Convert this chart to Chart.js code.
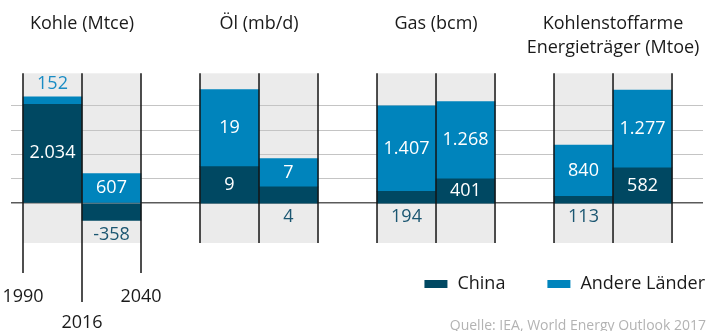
<!DOCTYPE html>
<html><head><meta charset="utf-8">
<script src="https://cdn.jsdelivr.net/npm/chart.js@4/dist/chart.umd.min.js"></script>
<style>html,body{margin:0;padding:0;background:#fff}#wrap{position:relative;width:708px;height:331px}</style>
</head><body><div id="wrap"><canvas id="c"></canvas></div>
<script>
// ---- data ----
const groupTitles = [['Kohle (Mtce)', ''], ['Öl (mb/d)', ''], ['Gas (bcm)', ''], ['Kohlenstoffarme', 'Energieträger (Mtoe)']];
const periods = ['1990-2016', '2016-2040'];
const yearLabels = [['1990'], ['', '2016'], ['2040']];
const seriesNames = ['China', 'Andere Länder'];
const chinaKohle = [2034, -358];
const andereKohle = [152, 607];
const chinaOel = [9, 4];
const andereOel = [19, 7];
const chinaGas = [194, 401];
const andereGas = [1407, 1268];
const chinaLow = [113, 582];
const andereLow = [840, 1277];
const gridSteps = [500, 6, 400, 400];
const sourceText = 'Quelle: IEA, World Energy Outlook 2017';

// ---- styling ----
const FONT = '"Open Sans", sans-serif';
const FS = 18;
const C_CHINA = '#004862', C_OTHER = '#0084bc';
const T_CHINA = '#1b5671', T_OTHER = '#1a8cc4';
const PANEL = '#ebebeb';
const X_MIN = -0.7034, X_MAX = 11.025;
const Y_LO = -1.64, Y_HI = 5.34;

const axisIds = ['yKohle', 'yOel', 'yGas', 'yLow'];
const chinaSets = [chinaKohle, chinaOel, chinaGas, chinaLow];
const otherSets = [andereKohle, andereOel, andereGas, andereLow];
const pos = (g, p) => g * 3 + p;

const datasets = [];
axisIds.forEach((id, g) => {
  datasets.push({label: seriesNames[0], series: 0, yAxisID: id, xAxisID: 'x', backgroundColor: C_CHINA,
    data: chinaSets[g].map((v, p) => ({x: pos(g, p), y: v}))});
  datasets.push({label: seriesNames[1], series: 1, yAxisID: id, xAxisID: 'x', backgroundColor: C_OTHER,
    data: otherSets[g].map((v, p) => ({x: pos(g, p), y: v}))});
});

const fmt = v => String(v).replace(/\B(?=(\d{3})+(?!\d))/g, '.');

const yScales = {};
axisIds.forEach((id, g) => {
  const s = gridSteps[g];
  yScales[id] = {
    type: 'linear', stacked: true, display: g === 0, min: Y_LO * s, max: Y_HI * s,
    ticks: {display: false}, border: {display: false},
    grid: {drawTicks: false,
      color: c => c.tick.value === 0 ? '#5a5a5a' : '#c4c4c4',
      lineWidth: c => c.tick.value === 0 ? 1.6 : 1},
    afterBuildTicks: sc => { sc.ticks = [0, 1, 2, 3, 4].map(k => ({value: k * s})); }
  };
});

const noSidePad = (s, h) => { s.height = h; s.paddingLeft = 0; s.paddingRight = 0; };

const decor = {
  id: 'decor',
  beforeDraw(chart) {
    const {ctx, chartArea: a, scales: {x}} = chart;
    ctx.save();
    ctx.fillStyle = PANEL;
    groupTitles.forEach((t, g) => {
      const l = x.getPixelForValue(pos(g, 0) - 0.5), r = x.getPixelForValue(pos(g, 1) + 0.5);
      ctx.fillRect(l, a.top, r - l, a.bottom - a.top);
    });
    ctx.restore();
  },
  afterDatasetsDraw(chart) {
    const {ctx, chartArea: a, scales: {x}} = chart;
    ctx.save();
    // panel edge lines
    ctx.strokeStyle = '#141414'; ctx.lineWidth = 1.5;
    groupTitles.forEach((t, g) => {
      [-0.5, 0.5, 1.5].forEach((o, k) => {
        const px = x.getPixelForValue(pos(g, 0) + o);
        let bottom = a.bottom;
        if (g === 0) bottom = k === 1 ? a.bottom + 59 : a.bottom + 30;
        ctx.beginPath(); ctx.moveTo(px, a.top); ctx.lineTo(px, bottom); ctx.stroke();
      });
    });
    // value labels
    ctx.font = FS + 'px ' + FONT;
    ctx.textAlign = 'center'; ctx.textBaseline = 'middle';
    chart.data.datasets.forEach((ds, i) => {
      const meta = chart.getDatasetMeta(i);
      meta.data.forEach((el, j) => {
        const {y, base} = el.getProps(['y', 'base'], true);
        const v = ds.data[j].y;
        const h = Math.abs(base - y);
        let ty, col;
        if (h >= 20) { ty = (y + base) / 2; col = '#ffffff'; }
        else if (ds.series === 0) { ty = Math.max(y, base) + 14; col = T_CHINA; }
        else { ty = Math.min(y, base) - 13; col = T_OTHER; }
        ctx.fillStyle = col;
        ctx.fillText(fmt(v), el.x, ty);
      });
    });
    // legend
    ctx.font = FS + 'px ' + FONT; ctx.textAlign = 'left'; ctx.textBaseline = 'middle';
    const ly = 284, sw = 23, sh = 8, gapT = 10, gapI = 42;
    let right = 705;
    const items = [{t: seriesNames[1], c: C_OTHER}, {t: seriesNames[0], c: C_CHINA}];
    items.forEach(it => {
      const w = ctx.measureText(it.t).width;
      const tx = right - w;
      const sx = tx - gapT - sw;
      ctx.fillStyle = it.c; ctx.fillRect(sx, ly - sh / 2, sw, sh);
      ctx.fillStyle = '#1a1a1a'; ctx.fillText(it.t, tx, ly);
      right = sx - gapI;
    });
    // source
    ctx.font = '14px ' + FONT; ctx.textAlign = 'right'; ctx.textBaseline = 'alphabetic';
    ctx.fillStyle = '#b3b3b3';
    ctx.fillText(sourceText, 706, 330);
    ctx.restore();
  }
};

new Chart(document.getElementById('c'), {
  type: 'bar',
  data: {datasets},
  options: {
    responsive: true, maintainAspectRatio: false, animation: false,
    datasets: {bar: {barPercentage: 1, categoryPercentage: 1, borderWidth: 0}},
    layout: {padding: {left: 11, right: 5, top: 0, bottom: 0}},
    plugins: {legend: {display: false}, tooltip: {enabled: false}},
    scales: {
      x: {type: 'linear', display: false, stacked: true, offset: false, min: X_MIN, max: X_MAX,
        afterBuildTicks: s => { s.ticks = []; groupTitles.forEach((t, g) => periods.forEach((p, k) => s.ticks.push({value: pos(g, k)}))); }},
      xTop: {type: 'linear', position: 'top', offset: false, min: X_MIN, max: X_MAX,
        grid: {display: false, drawTicks: false}, border: {display: false},
        ticks: {padding: 14, autoSkip: false, maxRotation: 0, color: '#1a1a1a',
          font: {family: FONT, size: FS, lineHeight: 1.3},
          callback: (v, i) => groupTitles[i]},
        afterBuildTicks: s => { s.ticks = groupTitles.map((t, g) => ({value: pos(g, 0) + 0.5})); },
        afterFit: s => noSidePad(s, 73.3)},
      xYears: {type: 'linear', position: 'bottom', offset: false, min: X_MIN, max: X_MAX,
        grid: {display: false, drawTicks: false}, border: {display: false},
        ticks: {padding: 41, autoSkip: false, maxRotation: 0, color: '#1a1a1a',
          font: {family: FONT, size: FS, lineHeight: 1.45},
          callback: (v, i) => yearLabels[i]},
        afterBuildTicks: s => { s.ticks = [-0.5, 0.5, 1.5].map(v => ({value: v})); },
        afterFit: s => noSidePad(s, 88)},
      ...yScales
    }
  },
  plugins: [decor]
});
</script></body></html>
